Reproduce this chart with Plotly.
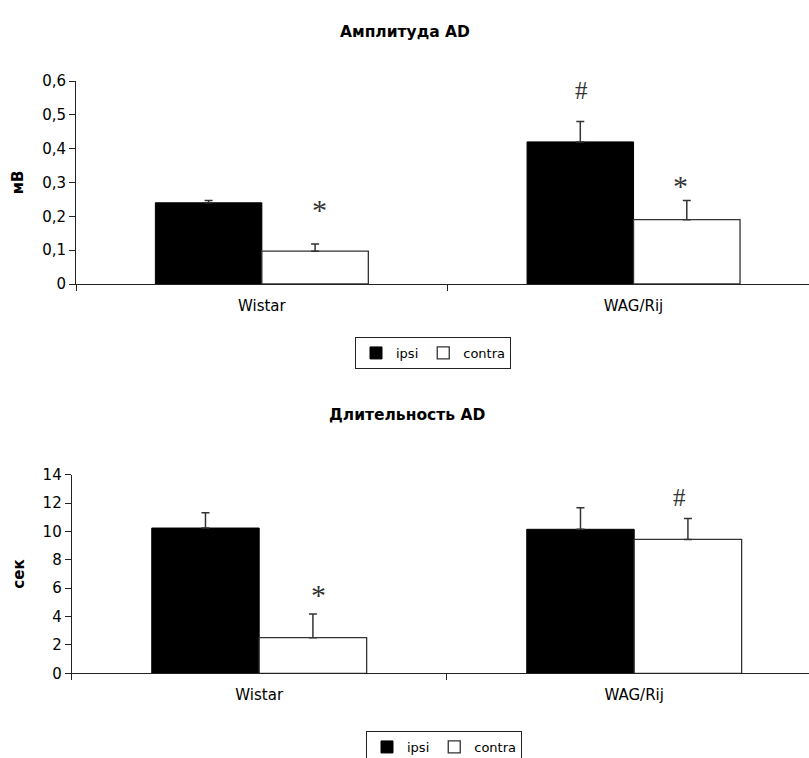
import plotly.graph_objects as go

# ---------------- data ----------------
categories = ["Wistar", "WAG/Rij"]
series_names = ["ipsi", "contra"]

amp_ipsi = [0.24, 0.42]
amp_ipsi_err = [0.007, 0.06]
amp_contra = [0.097, 0.19]
amp_contra_err = [0.021, 0.057]

dur_ipsi = [10.24, 10.15]
dur_ipsi_err = [1.08, 1.52]
dur_contra = [2.51, 9.44]
dur_contra_err = [1.67, 1.48]

amp_tickvals = [0, 0.1, 0.2, 0.3, 0.4, 0.5, 0.6]
amp_ticktext = ["0", "0,1", "0,2", "0,3", "0,4", "0,5", "0,6"]
dur_tickvals = [0, 2, 4, 6, 8, 10, 12, 14]
dur_ticktext = ["0", "2", "4", "6", "8", "10", "12", "14"]

chart_titles = ["Амплитуда AD", "Длительность AD"]
y_titles = ["мВ", "сек"]

# significance marks: symbol, category, series, y-value (data units)
amp_marks = [("*", "Wistar", "contra", 0.231), ("#", "WAG/Rij", "ipsi", 0.571),
             ("*", "WAG/Rij", "contra", 0.302)]
dur_marks = [("*", "Wistar", "contra", 5.87), ("#", "WAG/Rij", "contra", 12.4)]

# small horizontal nudges (px) of the marks, as placed in the original
amp_mark_nudge = [4, 1, -6]
dur_mark_nudge = [6, -8]

# ---------------- figure ----------------
W, H = 809, 758
FONT = "DejaVu Sans, Liberation Sans, Arial"
fig = go.Figure()

def add_pair(ipsi, ipsi_err, contra, contra_err, xa, ya, leg):
    fig.add_trace(go.Bar(
        x=categories, y=ipsi, name=series_names[0], xaxis=xa, yaxis=ya, legend=leg,
        marker=dict(color="black", line=dict(color="black", width=1)),
        error_y=dict(type="data", symmetric=False, array=ipsi_err,
                     arrayminus=[0] * len(ipsi_err), color="#333333", thickness=1.5, width=4),
    ))
    fig.add_trace(go.Bar(
        x=categories, y=contra, name=series_names[1], xaxis=xa, yaxis=ya, legend=leg,
        marker=dict(color="white", line=dict(color="#333333", width=1.3)),
        error_y=dict(type="data", symmetric=False, array=contra_err,
                     arrayminus=[0] * len(contra_err), color="#333333", thickness=1.5, width=4),
    ))

add_pair(amp_ipsi, amp_ipsi_err, amp_contra, amp_contra_err, "x", "y", "legend")
add_pair(dur_ipsi, dur_ipsi_err, dur_contra, dur_contra_err, "x2", "y2", "legend2")

bargap = 0.427
bar_off = (1 - bargap) / 4  # center offset of each bar in category units

def mark_annotations(marks, nudges, xref, yref):
    out = []
    for (sym, cat, ser, yv), nx in zip(marks, nudges):
        xi = categories.index(cat) + (-bar_off if ser == "ipsi" else bar_off)
        size = 30 if sym == "*" else 25
        shift = -4 if sym == "*" else 0
        out.append(dict(text=sym, x=xi, y=yv, xref=xref, yref=yref, showarrow=False,
                        yshift=shift, xshift=nx,
                        font=dict(family="Liberation Serif, Times New Roman", size=size, color="#333333"),
                        xanchor="center", yanchor="middle"))
    return out

annotations = (mark_annotations(amp_marks, amp_mark_nudge, "x", "y")
               + mark_annotations(dur_marks, dur_mark_nudge, "x2", "y2"))
annotations.append(dict(text="<b>%s</b>" % chart_titles[0], x=405 / W, y=1 - 32 / H,
                        xref="paper", yref="paper", showarrow=False,
                        xanchor="center", yanchor="middle",
                        font=dict(family=FONT, size=15.5, color="black")))
annotations.append(dict(text="<b>%s</b>" % chart_titles[1], x=407 / W, y=1 - 415 / H,
                        xref="paper", yref="paper", showarrow=False,
                        xanchor="center", yanchor="middle",
                        font=dict(family=FONT, size=15.5, color="black")))

x1_left, x1_right_range = 76, -0.5 + (W - 76) / 371.7
x2_left, x2_right_range = 71.7, -0.5 + (W - 71.7) / 375.0

axis_common = dict(showline=True, linecolor="#222222", linewidth=1, showgrid=False,
                   zeroline=False, ticks="outside", ticklen=6, tickcolor="#222222",
                   tickfont=dict(family=FONT, size=15, color="black"))

fig.update_layout(
    width=W, height=H,
    margin=dict(l=0, r=0, t=0, b=0, autoexpand=False),
    paper_bgcolor="white", plot_bgcolor="white",
    barmode="group", bargap=bargap, bargroupgap=0,
    showlegend=True,
    font=dict(family=FONT, size=14, color="black"),
    xaxis=dict(domain=[x1_left / W, 1], anchor="y", type="category",
               range=[-0.5, x1_right_range], tickson="boundaries", ticklabelstandoff=8,
               **axis_common),
    yaxis=dict(domain=[1 - 284 / H, 1 - 81 / H], anchor="x", range=[0, 0.6],
               tickvals=amp_tickvals, ticktext=amp_ticktext,
               title=dict(text="<b>%s</b>" % y_titles[0], standoff=14,
                          font=dict(family=FONT, size=15)), **axis_common),
    xaxis2=dict(domain=[x2_left / W, 1], anchor="y2", type="category",
                range=[-0.5, x2_right_range], tickson="boundaries", ticklabelstandoff=8,
                **axis_common),
    yaxis2=dict(domain=[1 - 673.3 / H, 1 - 474.7 / H], anchor="x2", range=[0, 14],
                tickvals=dur_tickvals, ticktext=dur_ticktext,
                title=dict(text="<b>%s</b>" % y_titles[1], standoff=14,
                           font=dict(family=FONT, size=15)), **axis_common),
    legend=dict(orientation="h", x=433 / W, y=1 - 337 / H, xanchor="center", yanchor="top",
                bordercolor="#222222", borderwidth=1, bgcolor="white",
                font=dict(family=FONT, size=13), itemwidth=30, tracegroupgap=0),
    legend2=dict(orientation="h", x=444 / W, y=1 - 731 / H, xanchor="center", yanchor="top",
                 bordercolor="#222222", borderwidth=1, bgcolor="white",
                 font=dict(family=FONT, size=13), itemwidth=30, tracegroupgap=0),
    annotations=annotations,
)

fig.write_html(
    "out.html",
    config={"displayModeBar": False},
    post_script="document.body.style.margin='0';document.body.style.overflow='hidden';",
)
